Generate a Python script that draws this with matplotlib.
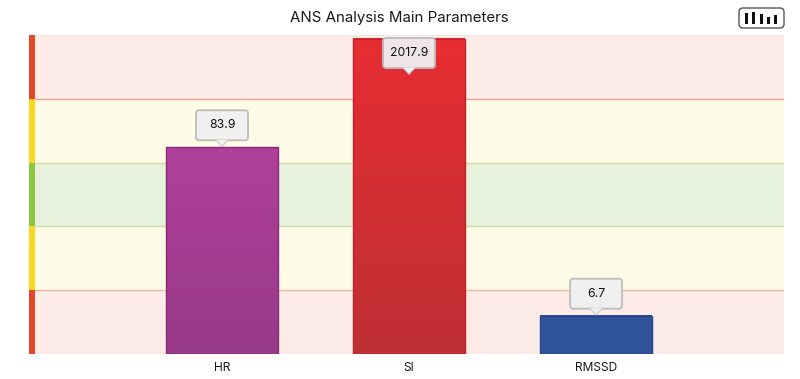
import matplotlib
matplotlib.use("Agg")
import matplotlib.pyplot as plt
import numpy as np
from matplotlib.colors import LinearSegmentedColormap
from matplotlib.patches import FancyBboxPatch, Polygon, Rectangle
from matplotlib.transforms import Affine2D, IdentityTransform

plt.rcParams['font.family'] = ['Inter', 'DejaVu Sans']

# data
categories = ["HR", "SI", "RMSSD"]
value_labels = ["83.9", "2017.9", "6.7"]
bar_levels = [3.24, 4.94, 0.6]  # height on the 5 zone scale
zone_edges = [0, 1, 2, 3, 4, 5]
icon_bar_heights = [11.5, 12, 10, 7.5, 9]

# styles
zone_fill = ["#fcebe7", "#fefbe7", "#e7f2dc", "#fefbe7", "#fcebe7"]
zone_stripe = ["#e2472a", "#f5d81f", "#8cc63f", "#f5d81f", "#e2472a"]
zone_line = ["#e9b9a2", "#cfdca6", "#cfdca6", "#f2a596", "#f8e6e0"]
bar_top = ["#b0409a", "#e72d32", "#30529c"]
bar_bottom = ["#973a87", "#be3035", "#30529c"]
bar_edge = ["#8a2a7c", "#c4202a", "#234488"]

W, H = 800, 379
fig = plt.figure(figsize=(W / 100, H / 100), dpi=100)
ax = fig.add_axes([35 / W, 1 - 354 / H, (784 - 35) / W, (354 - 35) / H])
ax.set_xlim(-1, 3.005)
ax.set_ylim(zone_edges[0], zone_edges[-1])
for s in ax.spines.values():
    s.set_visible(False)

# zones
for i in range(len(zone_fill)):
    ax.axhspan(zone_edges[i], zone_edges[i + 1], color=zone_fill[i], lw=0, zorder=0)
    ax.axhline(zone_edges[i + 1], color=zone_line[i], lw=1, zorder=1)
    # stripe on the left side of the plot
    ax.add_patch(Rectangle((-6 / ax.bbox.width, zone_edges[i]),
                           6 / ax.bbox.width, 1, transform=ax.get_yaxis_transform(),
                           color=zone_stripe[i], lw=0, clip_on=False, zorder=2))

# bars with vertical gradient
bar_w = 0.595
for i, h in enumerate(bar_levels):
    cmap = LinearSegmentedColormap.from_list("b", [bar_top[i], bar_bottom[i]])
    im = ax.imshow(np.linspace(0, 1, 100).reshape(-1, 1), cmap=cmap, aspect="auto",
                   extent=(i - bar_w / 2, i + bar_w / 2, 0, h), zorder=3)
    patch = Rectangle((i - bar_w / 2, 0), bar_w, h, facecolor="none",
                      edgecolor=bar_edge[i], lw=1, zorder=4)
    ax.add_patch(patch)
ax.set_xlim(-1, 3.005)
ax.set_ylim(zone_edges[0], zone_edges[-1])

ax.set_yticks([])
ax.set_xticks(range(len(categories)))
ax.set_xticklabels(categories, fontsize=8.6, color="#1a1a1a")
ax.tick_params(axis="x", length=0, pad=6)

# callouts, in pixels from the top of the bar, kept under the top of the figure
top_limit = H - 37
for i, h in enumerate(bar_levels):
    px, py = ax.transData.transform((i, h))
    tip = min(py, top_limit - 38)
    t = Affine2D().translate(px, tip)
    ax.add_patch(FancyBboxPatch((-24, 9), 48, 26, boxstyle="round,pad=2,rounding_size=3",
                                facecolor="#f0f0f0", edgecolor="#bdbdbd", lw=1.4, alpha=0.95,
                                transform=t, zorder=5, clip_on=False))
    ax.add_patch(Polygon([(-7, 7.4), (7, 7.4), (0, 0)], facecolor="#c6c6c6", edgecolor="none",
                         transform=t, zorder=5, clip_on=False))
    ax.add_patch(Polygon([(-6, 7.6), (6, 7.6), (0, 1.6)], facecolor="#f0f0f0", edgecolor="none",
                         transform=t, zorder=6, clip_on=False))
    ax.text(px, tip + 22, value_labels[i], transform=IdentityTransform(), ha="center", va="center",
            fontsize=8.8, color="#111111", zorder=7)

fig.text(399.5 / W, 1 - 18 / H, "ANS Analysis Main Parameters", ha="center", va="center",
         fontsize=10.8, color="#1a1a1a")

# small chart button in the top right corner
icon = fig.add_axes([0, 0, 1, 1], facecolor="none")
icon.set_xlim(0, W)
icon.set_ylim(H, 0)
icon.axis("off")
icon.add_patch(FancyBboxPatch((741, 10), 41, 16, boxstyle="round,pad=2,rounding_size=4",
                              facecolor="white", edgecolor="#555555", lw=1))
for x, ih in zip([746.5, 753, 761, 768.5, 775.5], icon_bar_heights):
    icon.bar(x, -ih, width=3, bottom=24, color="#111111")

fig.savefig("out.png", dpi=100)
